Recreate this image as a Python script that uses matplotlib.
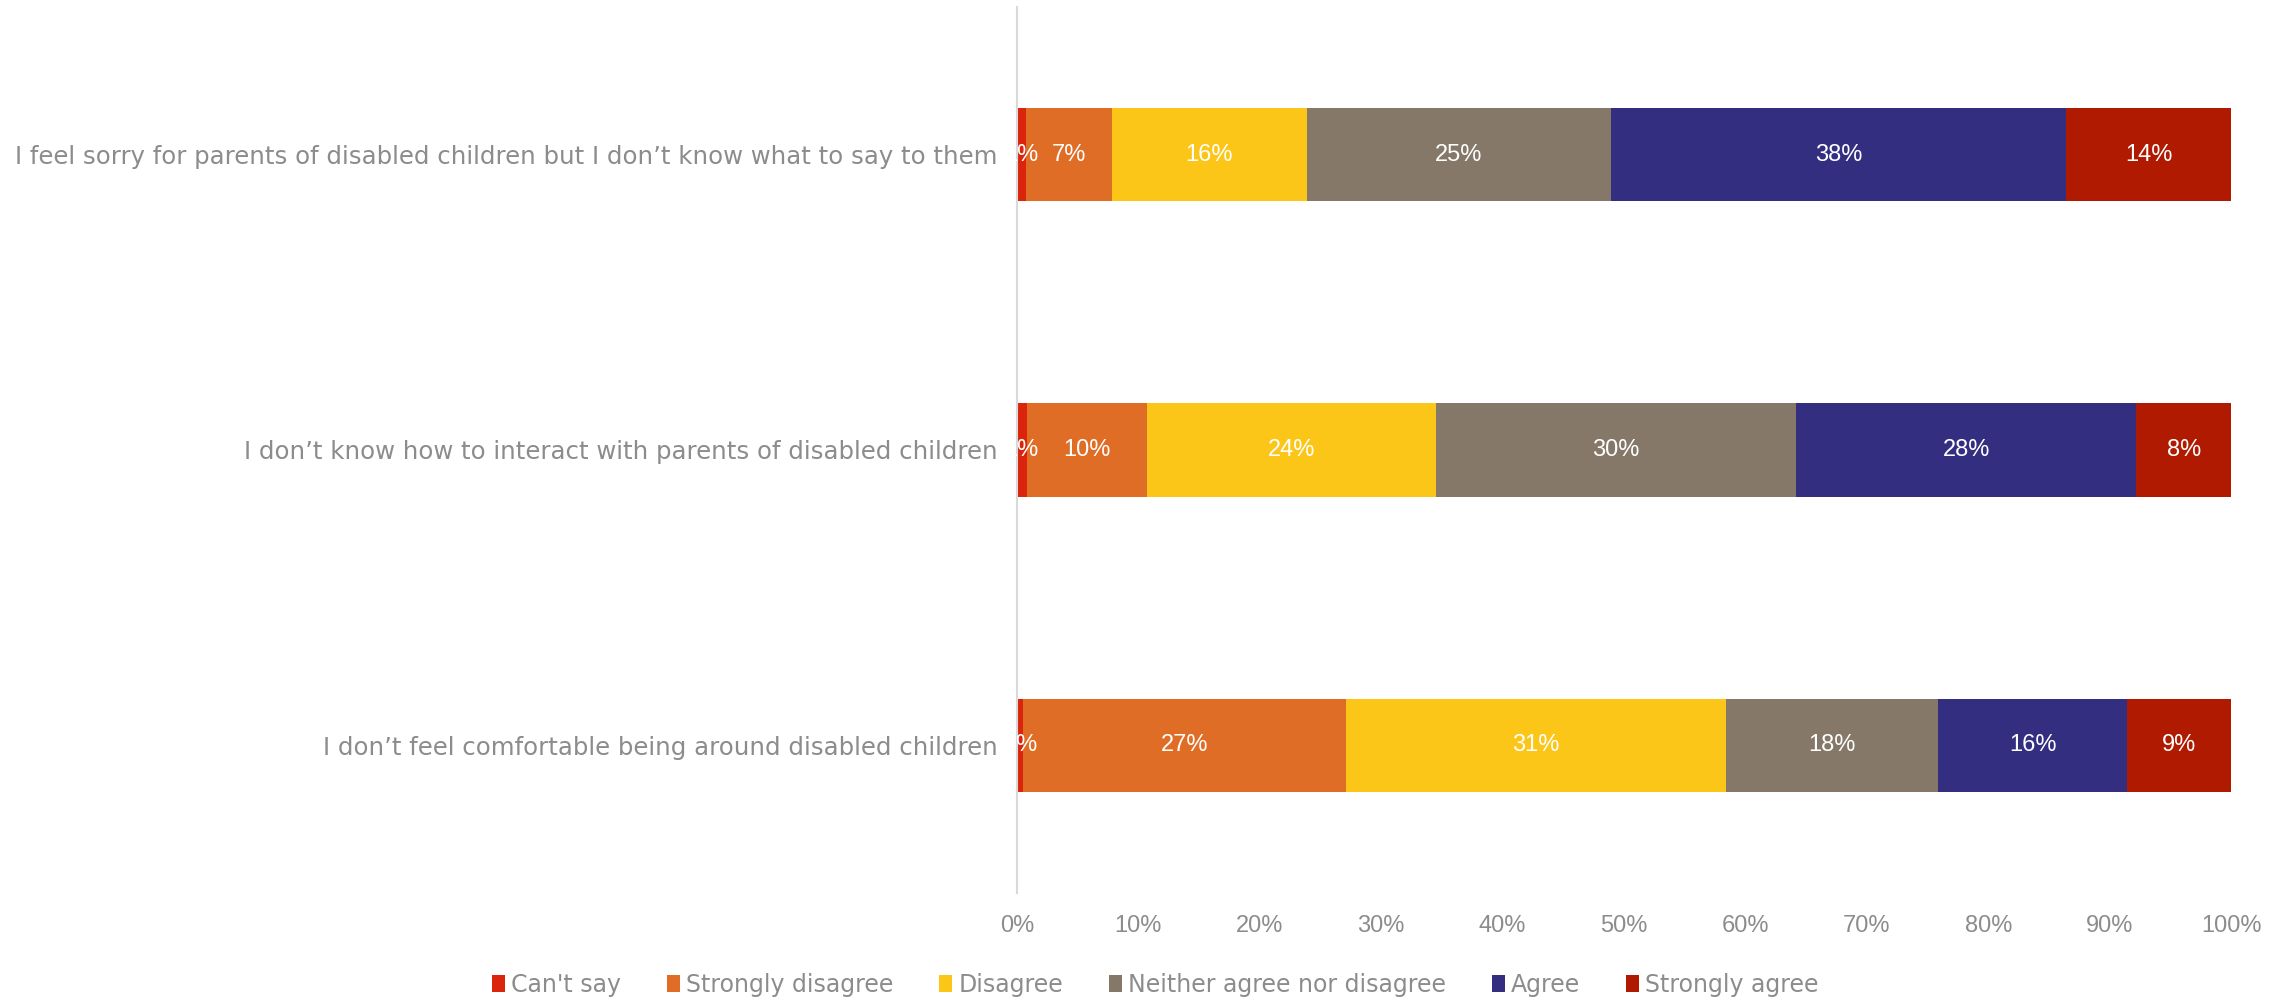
import matplotlib.pyplot as plt
import numpy as np

plt.rcParams['font.family'] = ['Liberation Sans', 'DejaVu Sans']

statements = ["I feel sorry for parents of disabled children but I don\u2019t know what to say to them",
              "I don\u2019t know how to interact with parents of disabled children",
              "I don\u2019t feel comfortable being around disabled children"]
answers = ["Can't say", "Strongly disagree", "Disagree", "Neither agree nor disagree", "Agree", "Strongly agree"]
colors = ["#DA250C", "#E06D26", "#FCC619", "#857868", "#332E80", "#AF1A00"]

# percentage per answer, one list per statement
cant_say = [0.7, 0.8, 0.5]
strongly_disagree = [7.1, 9.9, 26.6]
disagree = [16.1, 23.8, 31.3]
neither = [25.0, 29.7, 17.5]
agree = [37.5, 28.0, 15.5]
strongly_agree = [13.6, 7.8, 8.6]
series = [cant_say, strongly_disagree, disagree, neither, agree, strongly_agree]

txt_col = "#8C8C8C"

fig = plt.figure(figsize=(22.88, 9.98), dpi=100)
ax = fig.add_axes([0.4445, 0.1052, 0.5306, 0.8878])

y = np.arange(len(statements))
left = np.zeros(len(statements))
for name, vals, c in zip(answers, series, colors):
    vals = np.array(vals)
    ax.barh(y, vals, left=left, height=0.315, color=c, label=name, edgecolor='none')
    for yi, l, v in zip(y, left, vals):
        ax.text(l + v / 2, yi, "%d%%" % max(round(v), 1), ha='center', va='center',
                color='white', fontsize=17, clip_on=False)
    left += vals

ax.set_xlim(0, 100)
ax.set_ylim(len(statements) - 0.5, -0.5)
ax.set_yticks(y)
ax.set_yticklabels(statements, family='DejaVu Sans', fontsize=17.6)
ax.set_xticks(np.arange(0, 101, 10))
ax.set_xticklabels(["%d%%" % v for v in range(0, 101, 10)], fontsize=17)
ax.tick_params(axis='y', length=0, pad=14, labelcolor=txt_col)
ax.tick_params(axis='x', length=0, pad=16, labelcolor=txt_col)
for s in ['top', 'right', 'bottom']:
    ax.spines[s].set_visible(False)
ax.spines['left'].set_color('#D9D9D9')
ax.spines['left'].set_linewidth(1.5)

fig.legend(loc='center', bbox_to_anchor=(0.505, 0.013), ncol=6, frameon=False,
           prop={'family': 'DejaVu Sans', 'size': 17}, labelcolor=txt_col,
           handlelength=0.55, handleheight=0.75, handletextpad=0.25, columnspacing=1.95)

fig.savefig("out.png", dpi=100)
